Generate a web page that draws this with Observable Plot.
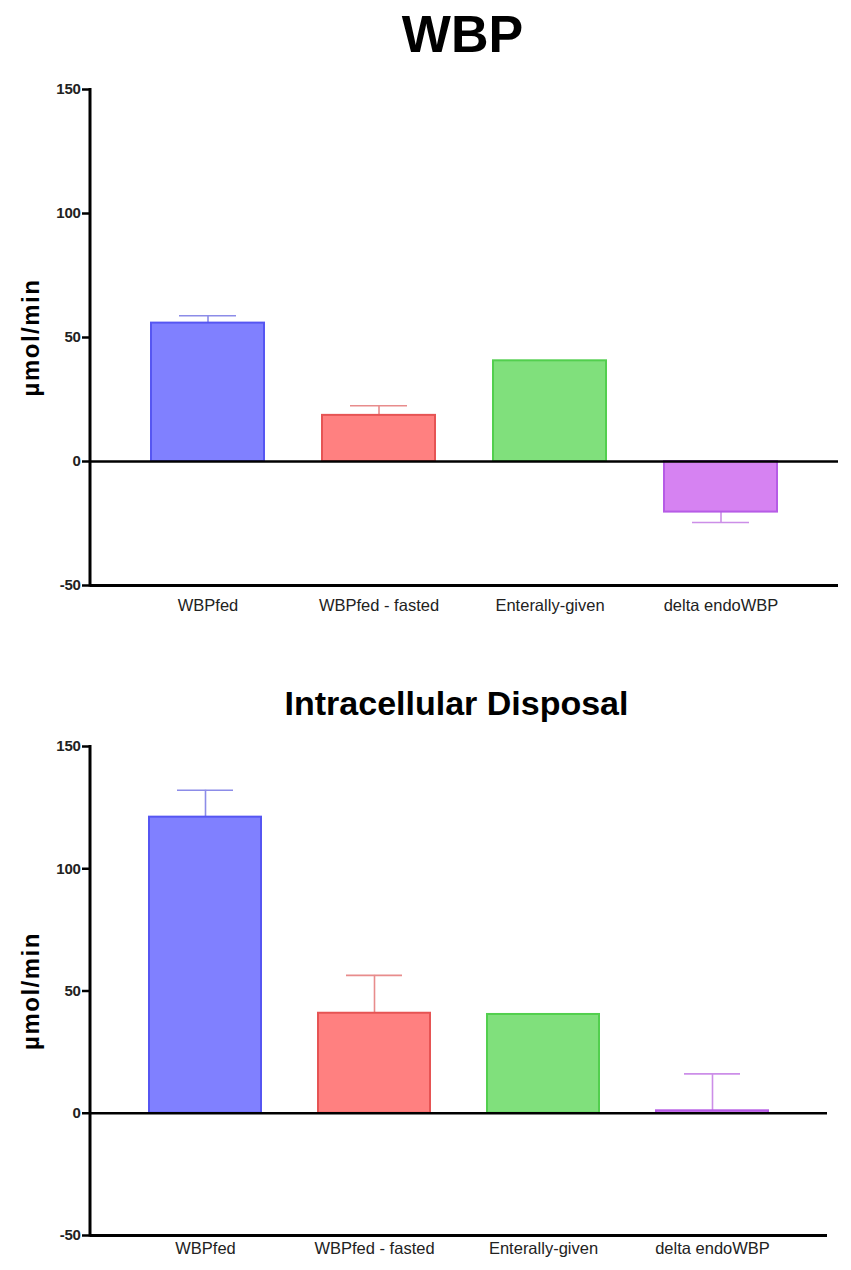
<!DOCTYPE html>
<html>
<head>
<meta charset="utf-8">
<script src="https://cdn.jsdelivr.net/npm/d3@7"></script>
<script src="https://cdn.jsdelivr.net/npm/@observablehq/plot@0.6"></script>
<style>
  body { margin: 0; background: white; }
  #wrap { position: relative; width: 851px; height: 1270px; font-family: "Liberation Sans", Arial, sans-serif; }
  .title { position: absolute; left: 0; width: 851px; text-align: center; font-weight: bold; line-height: 1; color: #000; box-sizing: border-box; }
  #t1 { top: 8px; font-size: 52px; padding-left: 74px; }
  #t2 { top: 686px; font-size: 34px; padding-left: 62px; }
  #c1 { position: absolute; left: 0; top: 70px; }
  #c2 { position: absolute; left: 0; top: 730px; }
  g[aria-label="y-axis tick label"] text, g[aria-label="y-axis tick label"] { font-size: 15px; font-weight: bold; letter-spacing: -0.3px; fill: #222; }
  g[aria-label="x-axis tick label"] { font-size: 16.5px; fill: #222; }
  g[aria-label="y-axis tick"] { stroke-width: 2.5px; }
  g.ylab text { letter-spacing: 1.5px; }
</style>
</head>
<body>
<div id="wrap">
  <div class="title" id="t1">WBP</div>
  <div id="c1"></div>
  <div class="title" id="t2">Intracellular Disposal</div>
  <div id="c2"></div>
</div>
<script>
const categories = ["WBPfed", "WBPfed - fasted", "Enterally-given", "delta endoWBP"];
const wbpValues = [55.8, 18.6, 40.6, -20.4];
const wbpErrors = [3.0, 3.9, null, 4.2];
const disposalValues = [121.1, 40.9, 40.4, 1.0];
const disposalErrors = [11.0, 15.5, null, 15.1];
const yTicks = [-50, 0, 50, 100, 150];
const yLabel = "µmol/min";

const fillColors = ["#8080ff", "#ff8080", "#80e07c", "#d682f2"];
const strokeColors = ["#5656f2", "#e65454", "#52cf4e", "#b65ce6"];
const errColors = ["#8c8ce8", "#e88c8c", "#7cd87c", "#cc8ee8"];

function chart(values, errors, opts) {
  const rows = categories.map((c, i) => ({
    cat: c, i,
    value: values[i],
    err: errors[i],
    end: errors[i] == null ? null : values[i] + (values[i] < 0 ? -1 : 1) * errors[i]
  }));
  const errRows = rows.filter(d => d.err != null);
  const yAxisLine = (index, scales, vals, dims) => {
    const x = dims.marginLeft;
    return d3.create("svg:line")
      .attr("x1", x).attr("x2", x)
      .attr("y1", scales.y(150) - 1).attr("y2", scales.y(-50) + 1.5)
      .attr("stroke", "black").attr("stroke-width", 3)
      .node();
  };
  return Plot.plot({
    width: 851,
    height: opts.height,
    marginTop: opts.marginTop,
    marginBottom: opts.marginBottom,
    marginLeft: 90,
    marginRight: opts.marginRight,
    style: { fontFamily: "'Liberation Sans', Arial, sans-serif", background: "white", overflow: "visible", color: "#000" },
    x: { domain: categories, paddingInner: 0.34, paddingOuter: 0.35, tickSize: 0, tickPadding: opts.tickPadding, label: null },
    y: { domain: [-50, 150], ticks: yTicks, tickFormat: d => String(d), tickSize: 8, tickPadding: 2, label: null },
    marks: [
      Plot.ruleX(errRows, { x: "cat", y1: "value", y2: "end", stroke: d => errColors[d.i], strokeWidth: 1.6 }),
      Plot.tickY(errRows, { x: "cat", y: "end", stroke: d => errColors[d.i], strokeWidth: 1.6, insetLeft: 28, insetRight: 28 }),
      Plot.barY(rows, { x: "cat", y: "value", fill: d => fillColors[d.i], stroke: d => strokeColors[d.i], strokeWidth: 2 }),
      Plot.ruleY([0], { stroke: "black", strokeWidth: 2.5 }),
      Plot.ruleY([-50], { stroke: "black", strokeWidth: 3 }),
      yAxisLine,
      Plot.text([yLabel], { text: d => d, frameAnchor: "left", textAnchor: "middle", rotate: -90, dx: -59, fontSize: 24, fontWeight: "bold", fill: "black", className: "ylab" })
    ]
  });
}

document.getElementById("c1").appendChild(chart(wbpValues, wbpErrors, {
  height: 554, marginTop: 19, marginBottom: 39, marginRight: 13, tickPadding: 14
}));
document.getElementById("c2").appendChild(chart(disposalValues, disposalErrors, {
  height: 540, marginTop: 16, marginBottom: 35, marginRight: 24, tickPadding: 7
}));
</script>
</body>
</html>
